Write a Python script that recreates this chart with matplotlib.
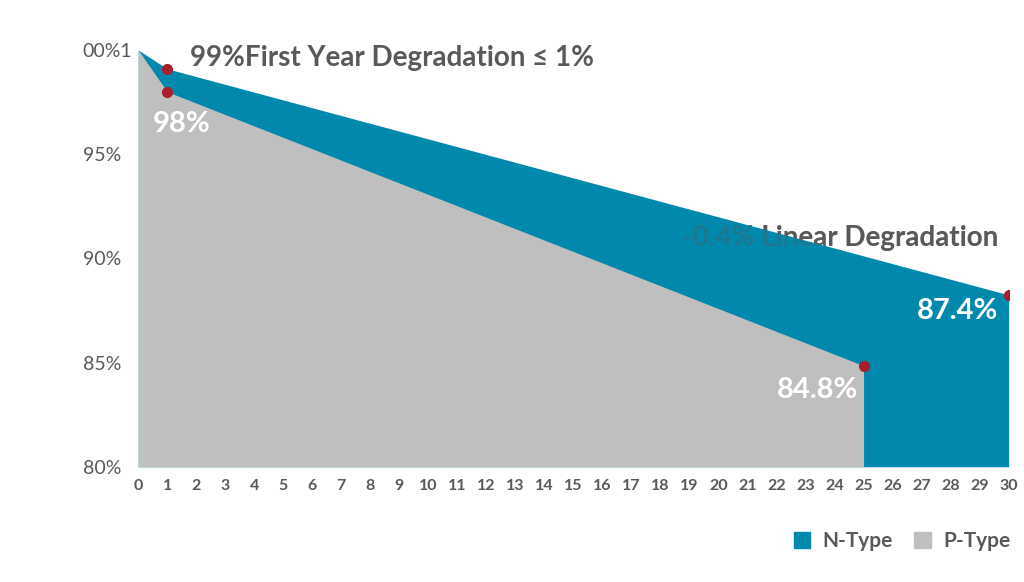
import matplotlib.pyplot as plt
from matplotlib.patches import Patch

# values
years = list(range(0, 31))
n_years = [0, 1, 30]
n_values = [100.0, 99.1, 88.25]
p_years = [0, 1, 25]
p_values = [100.0, 98.0, 84.85]

point_years = [1, 1, 25, 30]
point_values = [99.1, 98.0, 84.85, 88.25]

y_ticks = [80, 85, 90, 95, 100]
y_tick_labels = ["80%", "85%", "90%", "95%", "00%1"]

series_names = ["N-Type", "P-Type"]

TEAL = "#0088ad"
GREY = "#bfbfbf"
TEXT = "#595959"
RED = "#a91d2c"

plt.rcParams["font.family"] = ["Lato", "DejaVu Sans"]

fig = plt.figure(figsize=(10.24, 5.82), dpi=100)
ax = fig.add_axes([0.135, 0.198, 0.85, 0.716])

# text behind the areas, then a faint copy on top so it shows through the teal
lin_label = "-0.4% Linear Degradation"
ax.text(24.2, 91.0, lin_label, ha="center", va="center",
        fontsize=20, fontweight="bold", color=TEXT, zorder=0)
ax.text(24.2, 91.0, lin_label, ha="center", va="center",
        fontsize=20, fontweight="bold", color=TEXT, alpha=0.35, zorder=5)

ax.fill_between(n_years, n_values, 80, color=TEAL, linewidth=0, zorder=1)
ax.fill_between(p_years, p_values, 80, color=GREY, linewidth=0, zorder=2)

ax.plot(point_years, point_values, "o", color=RED, markersize=7, zorder=6)

ax.text(1.8, 99.6, "99%First Year Degradation \u2264 1%", ha="left", va="center",
        fontsize=20, fontweight="bold", color=TEXT, zorder=6)
ax.text(1.5, 96.45, "98%", ha="center", va="center", fontsize=21,
        fontweight="bold", color="white", zorder=6)
ax.text(23.4, 83.7, "84.8%", ha="center", va="center", fontsize=21,
        fontweight="bold", color="white", zorder=6)
ax.text(28.25, 87.48, "87.4%", ha="center", va="center", fontsize=21,
        fontweight="bold", color="white", zorder=6)

ax.set_xlim(0, 30)
ax.set_ylim(80, 100)
ax.set_xticks(years)
ax.set_xticklabels([str(y) for y in years], fontsize=11.5, color=TEXT,
                   fontweight="bold")
ax.set_yticks(y_ticks)
ax.set_yticklabels(y_tick_labels, fontsize=14, color=TEXT, ha="left")
ax.tick_params(axis="x", length=0, pad=9)
ax.tick_params(axis="y", length=0, pad=40)
for s in ax.spines.values():
    s.set_visible(False)

handles = [Patch(color=TEAL), Patch(color=GREY)]
fig.legend(handles, series_names, loc="center right", bbox_to_anchor=(1.005, 0.07),
           ncol=2, frameon=False, handlelength=0.8, handleheight=0.8,
           handletextpad=0.6, columnspacing=1.0,
           prop={"size": 15, "weight": "bold"}, labelcolor=TEXT)

fig.savefig("out.png", dpi=100)
